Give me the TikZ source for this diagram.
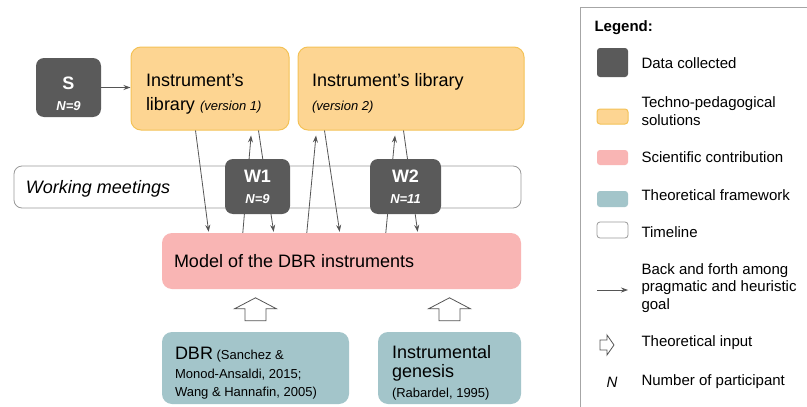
\documentclass[tikz,border=0pt]{standalone}
\usepackage{fontspec}
\setmainfont{Liberation Sans}
\usetikzlibrary{calc,arrows.meta}
\definecolor{datagray}{HTML}{5A5A5A}
\definecolor{solfill}{HTML}{FDD592}
\definecolor{soldraw}{HTML}{F4C257}
\definecolor{scifill}{HTML}{F9B5B4}
\definecolor{theofill}{HTML}{A3C5CA}
\definecolor{linegray}{HTML}{555555}
\newcommand{\vers}[1]{{\fontsize{13}{24}\selectfont\itshape #1}}
\newcommand{\refs}[1]{{\fontsize{13}{18.5}\selectfont #1}}
\newcommand{\nsmall}[1]{{\fontsize{13}{21}\selectfont\itshape #1}}
\frenchspacing

\begin{document}
\begin{tikzpicture}[x=1pt,y=-1pt,
	databox/.style={fill=datagray,text=white,rounded corners=8pt,align=center,inner sep=0pt,font=\fontsize{18}{21}\selectfont\bfseries},
	solbox/.style={fill=solfill,draw=soldraw,line width=1pt,rounded corners=10pt,align=flush left,inner xsep=15pt,font=\fontsize{18}{24}\selectfont},
	scibox/.style={fill=scifill,rounded corners=10pt,align=flush left,font=\fontsize{18}{24}\selectfont},
	theobox/.style={fill=theofill,rounded corners=10pt,align=flush left},
	timebox/.style={draw=gray!80,fill=white,line width=0.8pt,rounded corners=8pt},
	backforth/.style={draw=linegray,line width=0.8pt,-{Stealth[length=7pt,width=5pt]}},
	hollow/.style={draw=linegray,fill=white,line width=0.8pt,line join=miter},
	legtext/.style={anchor=west,align=left,font=\fontsize{15}{17.5}\selectfont}]
	\fill[white] (0,0) rectangle (807,407);
	\useasboundingbox (0,0) rectangle (807,407);
	
	\node[databox,minimum width=65pt,minimum height=59pt] (s) at (68.5,87.5) {\rule{0pt}{25pt}S\\\nsmall{N=9}};
	\node[solbox,minimum width=158pt,minimum height=83pt,text width=128pt] (lib1) at (210,88.5) {\rule{0pt}{23pt}Instrument's\\library \vers{(version 1)}};
	\node[solbox,minimum width=226pt,minimum height=83pt,text width=198pt,inner xsep=14pt] (lib2) at (411,88.5) {\rule{0pt}{23pt}Instrument's library\\\vers{(version 2)}};
	\node[timebox,minimum width=507pt,minimum height=42pt,inner xsep=12pt,text width=483pt,text depth=0pt,align=flush left,font=\fontsize{18}{24}\selectfont\itshape] (time) at (267.5,187) {Working meetings};
	\node[scibox,minimum width=359pt,minimum height=56pt,text width=335pt,inner xsep=12pt] (model) at (341.5,261) {Model of the DBR instruments};
	\node[theobox,minimum width=187pt,minimum height=72pt,text width=161pt,inner xsep=13pt,font=\fontsize{13}{18.5}\selectfont] (dbr) at (255.5,368) {\rule{0pt}{23pt}{\fontsize{18}{18.5}\selectfont DBR} (Sanchez \&\\Monod-Ansaldi, 2015;\\Wang \& Hannafin, 2005)};
	\node[theobox,minimum width=143pt,minimum height=72pt,text width=115pt,inner xsep=14pt,font=\fontsize{18}{19.5}\selectfont] (gen) at (449.5,368) {\rule{0pt}{22pt}Instrumental\\genesis\\\refs{(Rabardel, 1995)}};
	
	\draw[backforth] (s.east) -- (s.east -| lib1.west);
	\foreach \nm/\a/\b in {lib1/65/47,lib1/128/112,lib2/27/178,lib2/106/256}
		\draw[backforth,shorten >=1pt] ($(\nm.south west)+(\a,0)$) -- ($(model.north west)+(\b,0)$);
	\foreach \nm/\a/\b in {lib1/121/81,lib2/19/145,lib2/98/224}
		\draw[backforth,shorten >=5pt] ($(model.north west)+(\b,0)$) -- ($(\nm.south west)+(\a,0)$);
	\foreach \nm in {dbr,gen}
		\draw[hollow] ($(\nm.north)+(-10.5,-11)$) -- ++(0,-12) -- ++(-10.5,0) -- ++(21,-11) -- ++(21,11) -- ++(-10.5,0) -- ++(0,12) -- cycle;
	
	\node[databox,minimum width=65pt,minimum height=55pt] (w1) at (257.5,186.5) {W1\\\nsmall{N=9}};
	\node[databox,minimum width=71pt,minimum height=55pt] (w2) at (405.5,186.5) {W2\\\nsmall{N=11}};
	
	\draw[draw=gray!70,line width=1pt] (807,7) -| (580,407);
	\node[anchor=west,font=\fontsize{15}{18}\selectfont\bfseries] (legtitle) at (591,28) {Legend:};
	\foreach \nm/\sty/\y/\h in {ldata/databox/62.5/29,lsol/solbox/116.5/15,lsci/scibox/157.5/15,ltheo/theobox/199/16,ltime/timebox/230/16}
		\node[\sty,minimum width=31pt,minimum height=\h pt,inner sep=0pt,rounded corners=3pt] (\nm) at (612.5,\y) {};
	\foreach \nm/\y/\txt in {tdata/63/{Data collected},tsol/111/{Techno-pedagogical\\solutions},tsci/157/{Scientific contribution},ttheo/195/{Theoretical framework},ttime/232/{Timeline},tback/288/{Back and forth among\\pragmatic and heuristic\\goal},tin/343/{Theoretical input},tnum/382/{Number of participant}}
		\node[legtext] (\nm) at (638,\y) {\txt};
	\coordinate (la1) at (597,290);
	\coordinate (la2) at (628,290);
	\draw[backforth] (la1) -- (la2);
	\draw[hollow] (600,340) -- ++(7,0) -- ++(0,-5) -- ++(7,10) -- ++(-7,10) -- ++(0,-5) -- ++(-7,0) -- cycle;
	\node[font=\fontsize{15}{18}\selectfont\itshape] (lN) at (612,382) {N};
\end{tikzpicture}
\end{document}
